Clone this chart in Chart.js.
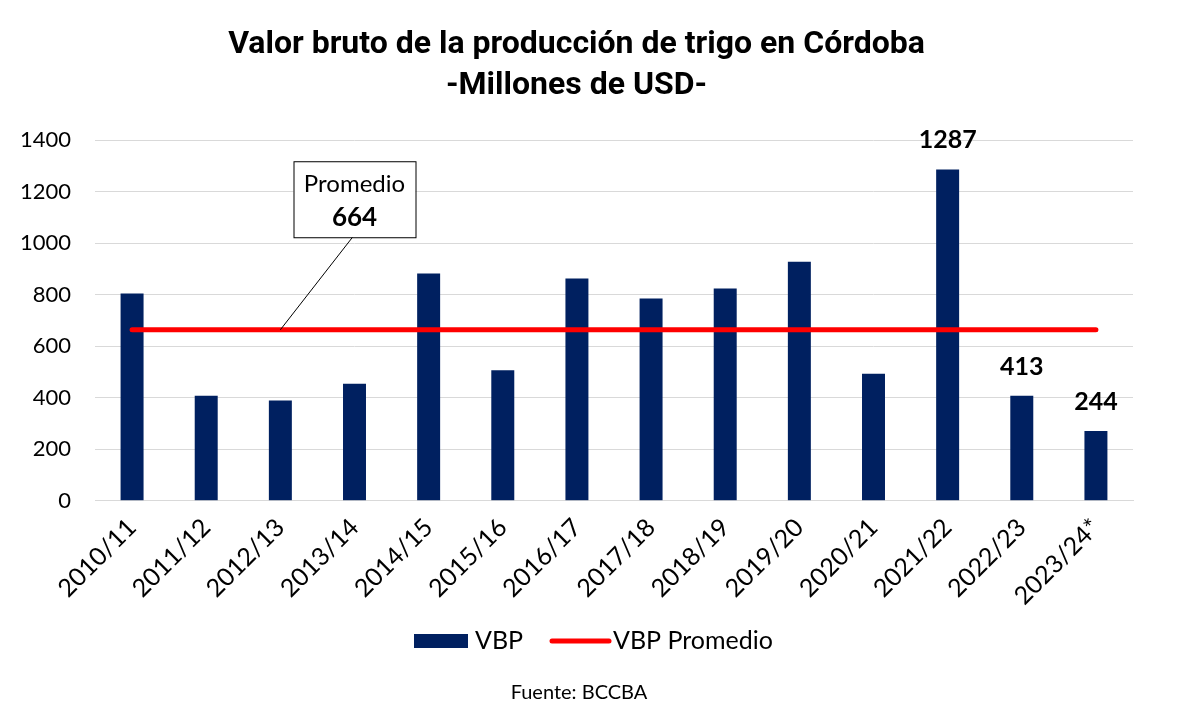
<!DOCTYPE html>
<html>
<head>
<meta charset="utf-8">
<script src="https://cdn.jsdelivr.net/npm/chart.js@4"></script>
<style>
  html, body { margin: 0; padding: 0; background: #fff; }
  #wrap { width: 1200px; height: 728px; }
</style>
</head>
<body>
<div id="wrap"><canvas id="myChart" width="1200" height="728"></canvas></div>
<script>
const categories = ['2010/11', '2011/12', '2012/13', '2013/14', '2014/15', '2015/16', '2016/17',
  '2017/18', '2018/19', '2019/20', '2020/21', '2021/22', '2022/23', '2023/24*'];
const vbp = [805, 408, 389, 454, 883, 507, 863, 786, 824, 928, 493, 1287, 408, 271];
const promedio = 664;
const promedioLine = categories.map(() => promedio);
const barLabels = [null, null, null, null, null, null, null, null, null, null, null, '1287', '413', '244'];
const yMin = 0, yMax = 1400, yStep = 200;

const NAVY = '#002060';
const RED = '#ff0000';
const bodyFont = 'Lato';

// labels above the last bars
const barLabelPlugin = {
  id: 'barLabels',
  afterDatasetsDraw(chart) {
    const ctx = chart.ctx;
    const meta = chart.getDatasetMeta(1);
    ctx.save();
    ctx.font = 'bold 25px ' + bodyFont;
    ctx.fillStyle = '#000';
    ctx.textAlign = 'center';
    ctx.textBaseline = 'middle';
    meta.data.forEach((bar, i) => {
      if (barLabels[i]) ctx.fillText(barLabels[i], bar.x, bar.y - 29);
    });
    ctx.restore();
  }
};

// callout box for the average
const promedioCallout = {
  id: 'promedioCallout',
  afterDatasetsDraw(chart) {
    const ctx = chart.ctx;
    const x = chart.scales.x, y = chart.scales.y;
    const bx = x.getPixelForValue(3), by = y.getPixelForValue(1171);
    const w = 122, h = 76;
    const tipX = x.getPixelForValue(2), tipY = y.getPixelForValue(promedio);
    ctx.save();
    ctx.strokeStyle = '#000';
    ctx.lineWidth = 1;
    ctx.beginPath();
    ctx.moveTo(bx - 2, by + h / 2);
    ctx.lineTo(tipX, tipY);
    ctx.stroke();
    ctx.fillStyle = '#fff';
    ctx.fillRect(bx - w / 2, by - h / 2, w, h);
    ctx.strokeRect(bx - w / 2 + 0.5, by - h / 2 + 0.5, w, h);
    ctx.fillStyle = '#000';
    ctx.textAlign = 'center';
    ctx.textBaseline = 'middle';
    ctx.font = '24px ' + bodyFont;
    ctx.fillText('Promedio', bx, by - 15);
    ctx.font = 'bold 26px ' + bodyFont;
    ctx.fillText(String(promedio), bx, by + 18);
    ctx.restore();
  }
};

// legend + source line
const footer = {
  id: 'footer',
  afterDraw(chart) {
    const ctx = chart.ctx;
    ctx.save();
    ctx.textBaseline = 'middle';
    ctx.fillStyle = NAVY;
    ctx.fillRect(414, 634, 54, 14);
    ctx.font = '25px ' + bodyFont;
    ctx.fillStyle = '#000';
    ctx.fillText('VBP', 475, 641);
    ctx.strokeStyle = RED;
    ctx.lineWidth = 5;
    ctx.lineCap = 'round';
    ctx.beginPath();
    ctx.moveTo(552, 641);
    ctx.lineTo(609, 641);
    ctx.stroke();
    ctx.fillText('VBP Promedio', 613, 641);
    ctx.font = '20px ' + bodyFont;
    ctx.textAlign = 'center';
    ctx.fillText('Fuente: BCCBA', 579, 693);
    ctx.restore();
  }
};

const ctx = document.getElementById('myChart').getContext('2d');
const myChart = new Chart(ctx, {
  data: {
    labels: categories,
    datasets: [{
      type: 'line',
      label: 'VBP Promedio',
      data: promedioLine,
      borderColor: RED,
      borderWidth: 5,
      borderCapStyle: 'round',
      pointRadius: 0,
      order: 0
    }, {
      type: 'bar',
      label: 'VBP',
      data: vbp,
      backgroundColor: NAVY,
      barPercentage: 0.31,
      categoryPercentage: 1,
      order: 1
    }]
  },
  options: {
    responsive: false,
    animation: false,
    layout: {
      padding: { top: 10, left: 20, right: 67, bottom: 113 }
    },
    scales: {
      x: {
        grid: { display: false },
        border: { color: '#d9d9d9' },
        afterFit: s => { s.paddingLeft = 0; },
        ticks: {
          color: '#000',
          font: { family: bodyFont, size: 25 },
          minRotation: 45,
          maxRotation: 45,
          padding: 4
        }
      },
      y: {
        min: yMin,
        max: yMax,
        grid: { color: '#d9d9d9', drawTicks: false },
        border: { display: false },
        afterFit: s => { s.width = 75; },
        ticks: {
          stepSize: yStep,
          color: '#000',
          font: { family: bodyFont, size: 22 },
          padding: 24,
          callback: v => String(v)
        }
      }
    },
    plugins: {
      legend: { display: false },
      tooltip: { enabled: false },
      title: {
        display: true,
        text: ['Valor bruto de la producción de trigo en Córdoba', '-Millones de USD-'],
        color: '#000',
        font: { family: 'Roboto', size: 32, weight: 'bold', lineHeight: 1.27 },
        padding: { top: 15, bottom: 34 }
      }
    }
  },
  plugins: [barLabelPlugin, promedioCallout, footer]
});
</script>
</body>
</html>
